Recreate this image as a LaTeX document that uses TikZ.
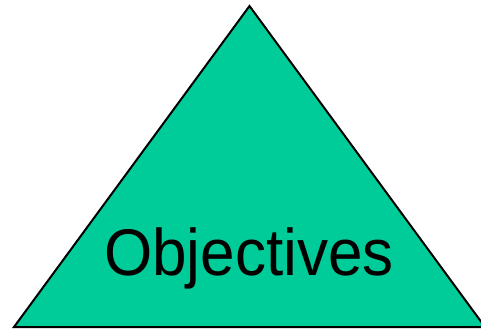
\documentclass[tikz,border=0pt]{standalone}
\usepackage{fontspec}
\setmainfont{Liberation Sans}
\definecolor{trigreen}{RGB}{0,204,153}
\begin{document}
\begin{tikzpicture}[x=0.75pt,y=0.75pt,
  tri/.style={fill=trigreen,draw=black,line width=1.5pt,line join=miter},
  lbl/.style={font=\fontsize{49.5}{55}\selectfont,inner sep=0pt,anchor=base,xscale=0.94}]
\useasboundingbox (0,0) rectangle (481,329);
\clip (0,0) rectangle (481,329);
\coordinate (apex) at (249.5,323);
\coordinate (bl) at (14,2);
\coordinate (br) at (485,2);
\draw[tri] (apex) -- (bl) -- (br) -- cycle;
\node[lbl] (obj) at (249,54) {Objectives};
\end{tikzpicture}
\end{document}
